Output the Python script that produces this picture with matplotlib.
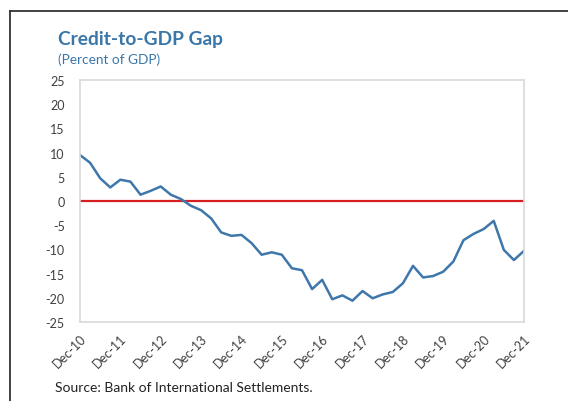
import matplotlib
matplotlib.use("Agg")
import matplotlib.pyplot as plt
from matplotlib.lines import Line2D

# Quarterly credit-to-GDP gap, Dec-2010 .. Dec-2021 (percent of GDP)
gap = [
    9.5, 7.9, 4.7, 2.8, 4.4, 4.0, 1.3, 2.1, 3.0, 1.3,
    0.4, -1.0, -1.9, -3.6, -6.5, -7.2, -7.0, -8.7, -11.1, -10.6,
    -11.1, -13.9, -14.3, -18.2, -16.3, -20.3, -19.5, -20.6, -18.6, -20.1,
    -19.3, -18.8, -17.0, -13.4, -15.8, -15.5, -14.6, -12.5, -8.1, -6.8,
    -5.8, -4.1, -10.1, -12.2, -10.3,
]
year_labels = ["Dec-10", "Dec-11", "Dec-12", "Dec-13", "Dec-14", "Dec-15",
               "Dec-16", "Dec-17", "Dec-18", "Dec-19", "Dec-20", "Dec-21"]
y_ticks = [25, 20, 15, 10, 5, 0, -5, -10, -15, -20, -25]

BLUE = "#3f77aa"
TITLE_BLUE = "#3a77a8"
RED = "#d71f1f"
GRAY_TXT = "#404040"

plt.rcParams["font.family"] = ["Lato", "DejaVu Sans"]

fig = plt.figure(figsize=(5.68, 4.02), dpi=100)
W, H = 568, 402
ax = fig.add_axes([80 / W, 1 - 323 / H, (524 - 80) / W, (323 - 81) / H])

quarters = list(range(len(gap)))
ax.plot(quarters, gap, color=BLUE, linewidth=1.8, solid_joinstyle="round")
ax.axhline(0, color=RED, linewidth=1.6, zorder=1)

ax.set_xlim(0, len(gap) - 1)
ax.set_ylim(-25, 25)
ax.set_yticks(y_ticks)
ax.set_yticklabels([str(v) for v in y_ticks])
ax.set_xticks(quarters[::4])
ax.set_xticklabels(year_labels, rotation=45, ha="right", rotation_mode="anchor")

ax.tick_params(axis="both", length=0, labelsize=9, labelcolor=GRAY_TXT)
ax.tick_params(axis="y", pad=11)
ax.tick_params(axis="x", pad=7)
for side in ax.spines.values():
    side.set_color("#d9d9d9")
    side.set_linewidth(1.2)

# titles and source note
fig.text(58 / W, 1 - 40 / H, "Credit-to-GDP Gap", color=TITLE_BLUE,
         fontsize=13.8, fontweight="bold", va="center", ha="left")
fig.text(58 / W, 1 - 60 / H, "(Percent of GDP)", color=TITLE_BLUE,
         fontsize=9.8, va="center", ha="left")
fig.text(55 / W, 1 - 388 / H, "Source: Bank of International Settlements.",
         color="#222222", fontsize=10, va="center", ha="left")

# outer frame (top and left edges)
fig.add_artist(Line2D([10 / W, 1.0], [1 - 12 / H, 1 - 12 / H],
                      transform=fig.transFigure, color="#333333", linewidth=1.3))
fig.add_artist(Line2D([10 / W, 10 / W], [0.0, 1 - 12 / H],
                      transform=fig.transFigure, color="#333333", linewidth=1.3))

fig.savefig("out.png", dpi=100)
